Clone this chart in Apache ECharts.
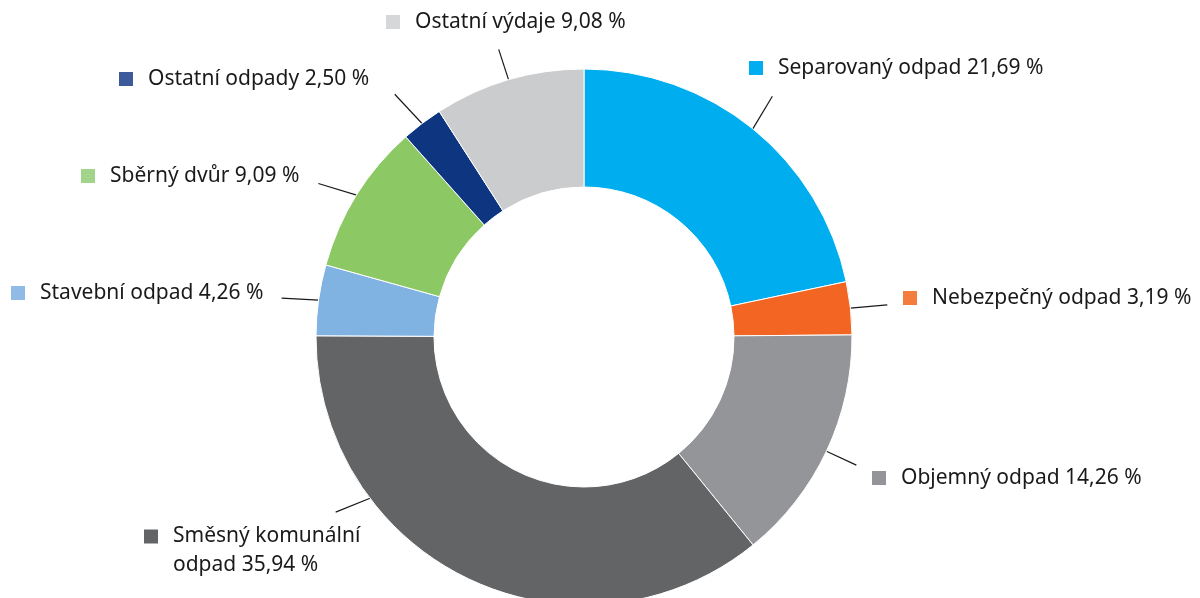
<!DOCTYPE html>
<html>
<head>
<meta charset="utf-8">
<script src="https://cdn.jsdelivr.net/npm/echarts@6/dist/echarts.min.js"></script>
<style>
  html, body { margin: 0; padding: 0; background: #fff; }
  #chart { width: 1200px; height: 598px; }
</style>
</head>
<body>
<div id="chart"></div>
<script>
// podíly nákladů, po směru hodinových ručiček od 12 hodin
const names = [
  "Separovaný odpad",
  "Nebezpečný odpad",
  "Objemný odpad",
  "Směsný komunální\nodpad",
  "Stavební odpad",
  "Sběrný dvůr",
  "Ostatní odpady",
  "Ostatní výdaje"
]
const values = [ 21.69, 3.19, 14.26, 35.94, 4.26, 9.09, 2.50, 9.08 ]
const colors = [ "#00aeef", "#f26522", "#939598", "#636466", "#80b3e1", "#8cc864", "#0d3580", "#cbcccd" ]
const markerColors = [ "#00aeef", "#f47c3c", "#939598", "#636466", "#8fbbe6", "#a3d48c", "#3d5a9a", "#d6d7d8" ]

// kam posadit popisky (levý okraj značky, svislý střed)
const labelPos = [
  [ 749, 68 ], [ 903, 298 ], [ 872, 478 ], [ 144, 551 ],
  [ 11, 293 ], [ 81, 176 ], [ 119, 79 ], [ 386, 22 ]
]
// odkazové čáry: směr (stupně, osa x doprava, y dolů), délka, případně jiný úhel úchytu na obvodu
const lineDir = [ -59, -5, 25, 158, 183, 197, 227, 252 ]
const lineLen = [ 38, 37, 33, 37, 37, 40, 40, 32 ]
const lineAnchor = [ null, null, null, 233, null, null, null, null ]

const CENTER = [ 584, 337 ]
const RADIUS = [ 150, 268 ]

const chart = echarts.init(document.getElementById("chart"), null, { renderer: "canvas" })

const fmt = (v) => v.toFixed(2).replace(".", ",") + " %"

const rich = {}
markerColors.forEach((c, i) => {
  rich["sq" + i] = { width: 14, height: 14, backgroundColor: c }
})
rich.t = { fontSize: 21, lineHeight: 29, color: "#1a1a1a", padding: [ 0, 0, 0, 15 ] }
rich.t2 = { fontSize: 21, lineHeight: 29, color: "#1a1a1a", padding: [ 0, 0, 0, 29 ] }

const option = {
  animation: false,
  textStyle: { fontFamily: "\"Noto Sans\", sans-serif" },
  series: [
    {
      type: "pie",
      center: CENTER,
      radius: RADIUS,
      startAngle: 90,
      clockwise: true,
      itemStyle: { borderColor: "#fff", borderWidth: 1 },
      label: {
        show: true,
        position: "outside",
        align: "left",
        verticalAlign: "middle",
        formatter: (p) => {
          const lines = (p.name + " " + fmt(p.value)).split("\n")
          return "{sq" + p.dataIndex + "|}{t|" + lines[0] + "}" +
            (lines[1] ? "\n{t2|" + lines[1] + "}" : "")
        },
        rich
      },
      labelLine: {
        show: true,
        length: 30,
        length2: 0,
        lineStyle: { color: "#1a1a1a", width: 1.2 }
      },
      labelLayout: (p) => {
        const i = p.dataIndex
        const out = {
          x: labelPos[i][0],
          y: labelPos[i][1],
          align: "left",
          verticalAlign: "middle"
        }
        const pts = p.labelLinePoints
        if (pts && pts.length > 1) {
          let start = [ pts[0][0], pts[0][1] ]
          if (lineAnchor[i] != null) {
            const a = lineAnchor[i] * Math.PI / 180
            start = [ CENTER[0] + RADIUS[1] * Math.sin(a), CENTER[1] - RADIUS[1] * Math.cos(a) ]
          }
          const d = lineDir[i] * Math.PI / 180
          out.labelLinePoints = [
            start,
            [ start[0] + Math.cos(d) * lineLen[i], start[1] + Math.sin(d) * lineLen[i] ]
          ]
        }
        return out
      },
      data: names.map((n, i) => ({
        name: n,
        value: values[i],
        itemStyle: { color: colors[i] }
      }))
    }
  ]
}
chart.setOption(option)
</script>
</body>
</html>
